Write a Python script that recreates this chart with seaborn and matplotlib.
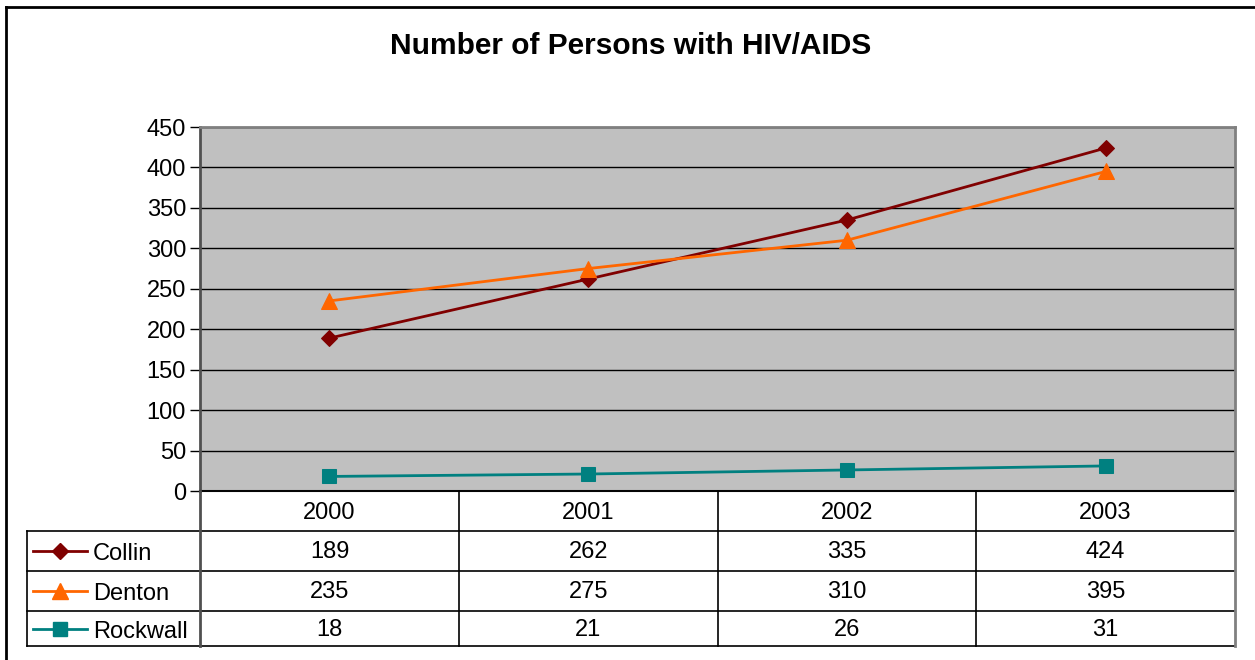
import matplotlib
matplotlib.use("Agg")
import matplotlib.pyplot as plt
from matplotlib.lines import Line2D
import seaborn as sns
import pandas as pd

plt.rcParams['font.family'] = ['Liberation Sans', 'DejaVu Sans']

years = ["2000", "2001", "2002", "2003"]
series = ["Collin", "Denton", "Rockwall"]
collin = [189, 262, 335, 424]
denton = [235, 275, 310, 395]
rockwall = [18, 21, 26, 31]
values = {"Collin": collin, "Denton": denton, "Rockwall": rockwall}

colors = {"Collin": "#800000", "Denton": "#FF6600", "Rockwall": "#008080"}
markers = {"Collin": "D", "Denton": "^", "Rockwall": "s"}
msizes = {"Collin": 8, "Denton": 11, "Rockwall": 10}

W, H = 1255, 660
fig = plt.figure(figsize=(W / 100, H / 100), dpi=100)

def fx(px):
    return px / W

def fy(py):
    return 1 - py / H

L, R, T, B = 200, 1235, 127, 491
ax = fig.add_axes([fx(L), fy(B), fx(R) - fx(L), fy(T) - fy(B)])
ax.set_facecolor("#C0C0C0")

rows = []
for s in series:
    for i, y in enumerate(years):
        rows.append({"idx": i, "year": y, "series": s, "value": values[s][i]})
df = pd.DataFrame(rows)

for s in series:
    sns.lineplot(data=df[df["series"] == s], x="idx", y="value", ax=ax,
                 color=colors[s], marker=markers[s], markersize=msizes[s],
                 markeredgecolor=colors[s], linewidth=2, legend=False, zorder=3)

ax.set_xlim(-0.5, 3.5)
ax.set_ylim(0, 450)
ax.set_yticks(range(0, 451, 50))
ax.set_xticks([])
ax.set_xlabel("")
ax.set_ylabel("")
ax.yaxis.grid(True, color="black", linewidth=1)
ax.set_axisbelow(True)
ax.tick_params(axis="y", labelsize=17, length=7, width=1, color="black", pad=3)
for side in ["top", "right"]:
    ax.spines[side].set_color("#808080")
    ax.spines[side].set_linewidth(2)
ax.spines["left"].set_color("#505050")
ax.spines["left"].set_linewidth(2)
ax.spines["bottom"].set_color("#202020")
ax.spines["bottom"].set_linewidth(1.5)

fig.suptitle("Number of Persons with HIV/AIDS", x=fx(631), y=fy(46), va="center",
             fontsize=21.5, fontweight="bold")

# figure border
fig.add_artist(Line2D([fx(6), fx(6)], [fy(7), 0], color="black", lw=2))
fig.add_artist(Line2D([fx(6), 1], [fy(7), fy(7)], color="black", lw=2))

# data table
col_edges = [200, 459, 718, 976, 1235]
row_edges = [491, 531, 571, 611, 646]
tab_left = 27
for i, py in enumerate(row_edges):
    x0 = L if i == 0 else tab_left
    fig.add_artist(Line2D([fx(x0), fx(R)], [fy(py), fy(py)], color="black", lw=1.2))
for px in col_edges[1:-1]:
    fig.add_artist(Line2D([fx(px), fx(px)], [fy(row_edges[0]), fy(row_edges[-1])], color="black", lw=1.2))
fig.add_artist(Line2D([fx(L), fx(L)], [fy(row_edges[0]), fy(row_edges[-1])], color="#505050", lw=2))
fig.add_artist(Line2D([fx(R), fx(R)], [fy(row_edges[0]), fy(row_edges[-1])], color="#808080", lw=2))
fig.add_artist(Line2D([fx(tab_left), fx(tab_left)], [fy(row_edges[1]), fy(row_edges[-1])], color="black", lw=1.2))

for j, y in enumerate(years):
    cx = (col_edges[j] + col_edges[j + 1]) / 2
    fig.text(fx(cx), fy((row_edges[0] + row_edges[1]) / 2 + 2), y, ha="center", va="center", fontsize=17)

for i, s in enumerate(series):
    cy = (row_edges[i + 1] + row_edges[i + 2]) / 2
    fig.add_artist(Line2D([fx(33), fx(87)], [fy(cy), fy(cy)], color=colors[s], lw=2))
    fig.add_artist(Line2D([fx(60)], [fy(cy)], color=colors[s], marker=markers[s],
                          markersize=msizes[s], markeredgecolor=colors[s], lw=0))
    fig.text(fx(93), fy(cy + 3), s, ha="left", va="center", fontsize=17)
    for j, v in enumerate(values[s]):
        cx = (col_edges[j] + col_edges[j + 1]) / 2
        fig.text(fx(cx), fy(cy + 1), str(v), ha="center", va="center", fontsize=17)

fig.savefig("out.png", dpi=100, facecolor="white")
